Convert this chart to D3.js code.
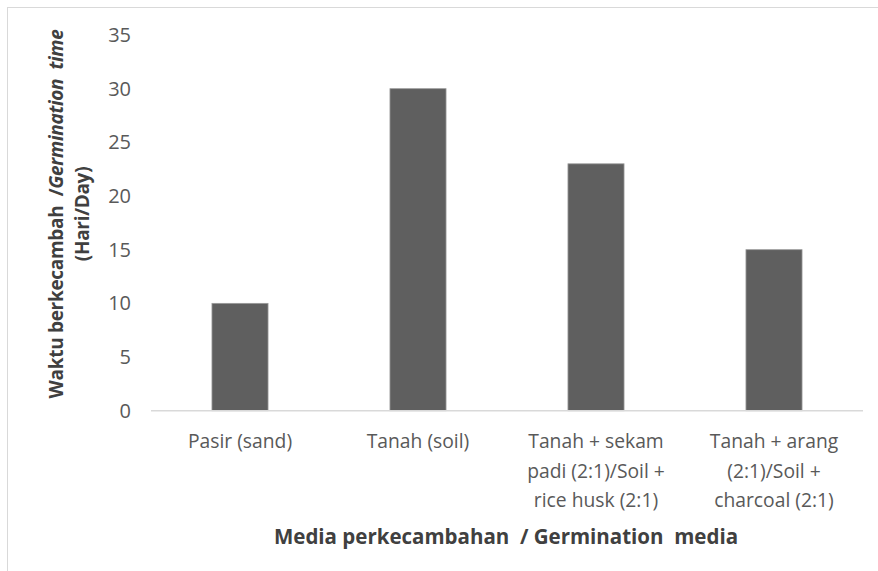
<!DOCTYPE html>
<html>
<head>
<meta charset="utf-8">
<script src="https://cdn.jsdelivr.net/npm/d3@7"></script>
<style>
  body { margin: 0; background: #fff; }
  text { font-family: "Open Sans", "Noto Sans", sans-serif; white-space: pre; }
</style>
</head>
<body>
<svg id="chart" width="878" height="571"></svg>
<script>
const categories = [
  ["Pasir (sand)"],
  ["Tanah (soil)"],
  ["Tanah + sekam", "padi (2:1)/Soil +", "rice husk (2:1)"],
  ["Tanah + arang", "(2:1)/Soil +", "charcoal (2:1)"]
];
const values = [10, 30, 23, 15];
const yTicks = [0, 5, 10, 15, 20, 25, 30, 35];

const svg = d3.select("#chart");

// bingkai luar chart
svg.append("rect")
  .attr("x", 7.5).attr("y", 7.5)
  .attr("width", 900).attr("height", 600)
  .attr("fill", "none")
  .attr("stroke", "#d9d9d9");

const x = d3.scaleBand()
  .domain(d3.range(categories.length))
  .range([151, 863]);

const y = d3.scaleLinear()
  .domain([0, 35])
  .range([410.7, 35]);

const barW = x.bandwidth() * 0.315;

svg.append("g")
  .selectAll("rect")
  .data(values)
  .enter()
  .append("rect")
  .attr("x", (d, i) => x(i) + x.bandwidth() / 2 - barW / 2)
  .attr("y", d => y(d))
  .attr("width", barW)
  .attr("height", d => y(0) - y(d))
  .attr("fill", "#5f5f5f")
  .attr("stroke", "#9a9a9a")
  .attr("stroke-width", 0.8);

// sumbu y (tanpa garis)
const yAxis = svg.append("g")
  .attr("transform", "translate(131,0)")
  .call(d3.axisLeft(y).tickValues(yTicks).tickSize(0).tickPadding(0));
yAxis.select(".domain").remove();
yAxis.selectAll("text")
  .attr("font-size", 20)
  .attr("fill", "#595959")
  .attr("font-family", "Open Sans");

// garis dasar
svg.append("line")
  .attr("x1", 151).attr("x2", 863)
  .attr("y1", y(0)).attr("y2", y(0))
  .attr("stroke", "#d9d9d9")
  .attr("stroke-width", 1.5);

// label kategori
const lab = svg.append("g")
  .selectAll("text")
  .data(categories)
  .enter()
  .append("text")
  .attr("text-anchor", "middle")
  .attr("font-size", 19.3)
  .attr("fill", "#595959");
lab.each(function(lines, i) {
  d3.select(this).selectAll("tspan")
    .data(lines)
    .enter()
    .append("tspan")
    .attr("x", x(i) + x.bandwidth() / 2)
    .attr("y", (d, j) => 448 + j * 29.5)
    .text(d => d);
});

// judul sumbu x
svg.append("text")
  .attr("x", 506).attr("y", 544)
  .attr("text-anchor", "middle")
  .attr("font-size", 20.5)
  .attr("font-weight", "bold")
  .attr("fill", "#404040")
  .text("Media perkecambahan  / Germination  media");

// judul sumbu y
const yt = svg.append("text")
  .attr("transform", "translate(63,214) rotate(-90)")
  .attr("text-anchor", "middle")
  .attr("font-size", 19)
  .attr("font-weight", "bold")
  .attr("letter-spacing", -0.3)
  .attr("fill", "#404040");
yt.append("tspan").text("Waktu berkecambah  /");
yt.append("tspan").attr("font-style", "italic").text("Germination  time");
svg.append("text")
  .attr("transform", "translate(89,214) rotate(-90)")
  .attr("text-anchor", "middle")
  .attr("font-size", 19)
  .attr("font-weight", "bold")
  .attr("letter-spacing", -0.3)
  .attr("fill", "#404040")
  .text("(Hari/Day)");
</script>
</body>
</html>
